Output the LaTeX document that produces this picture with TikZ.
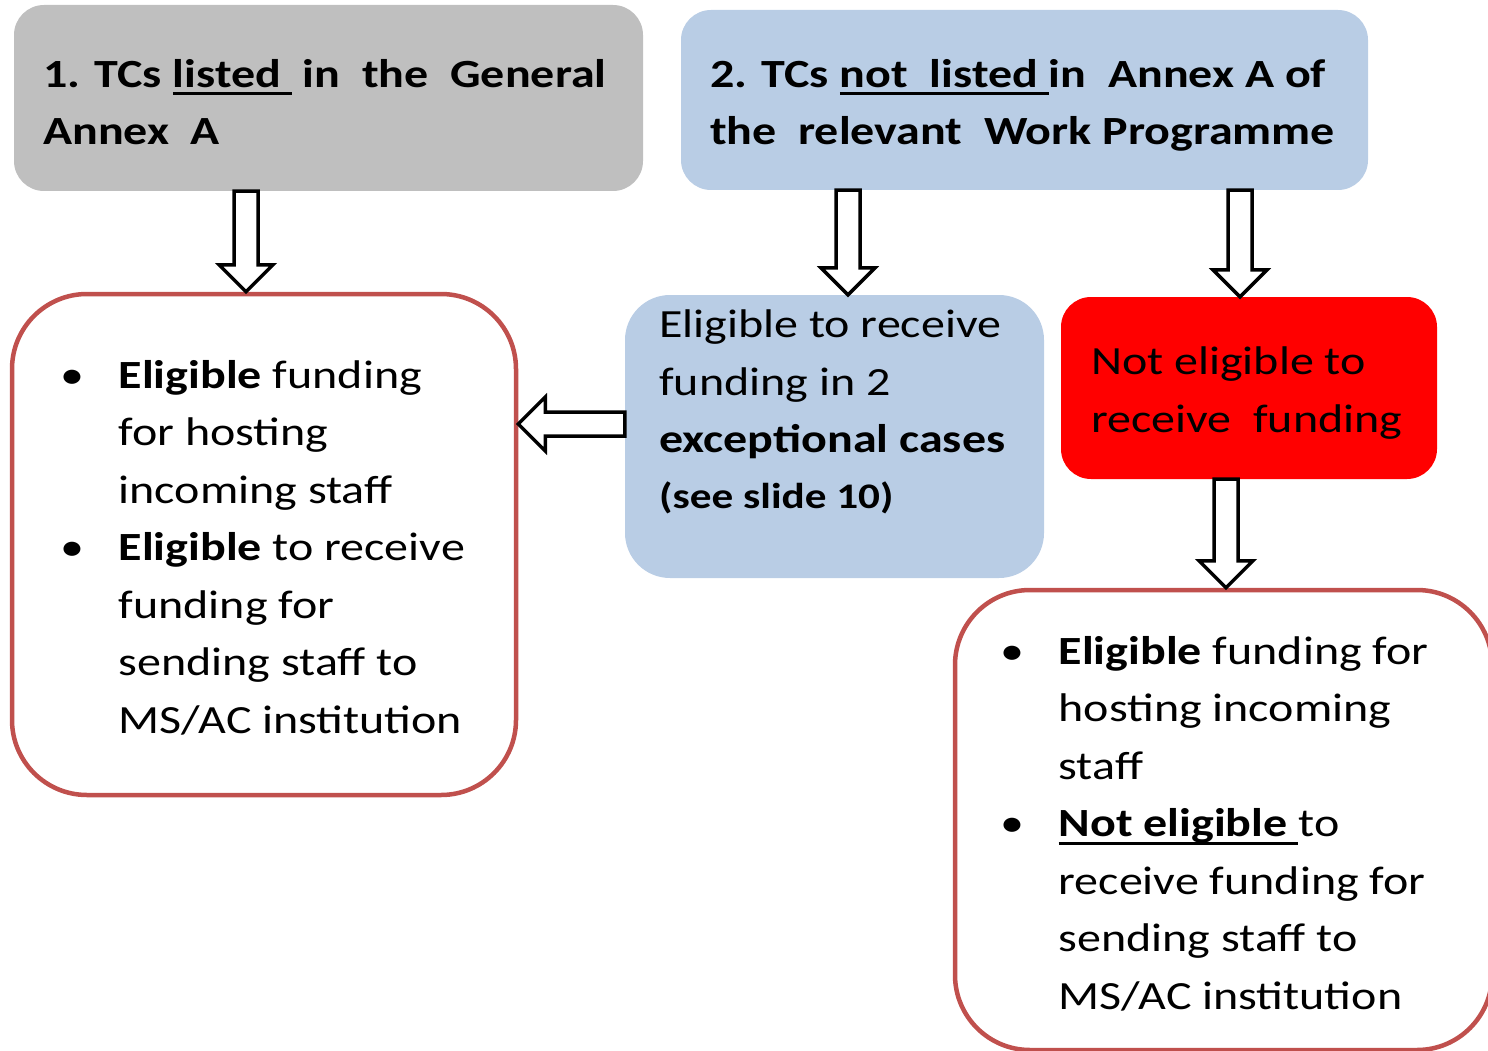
\documentclass[tikz,border=0pt]{standalone}
\usepackage{fontspec}
\setmainfont{Carlito}[FakeStretch=1.2]
\usetikzlibrary{positioning, calc}
\definecolor{boxGray}{HTML}{BFBFBF}
\definecolor{boxBlue}{HTML}{B9CDE5}
\definecolor{edgeRed}{HTML}{C0504D}
\definecolor{alarmRed}{HTML}{FF0000}
\newcommand{\ulword}[1]{\setbox0\hbox{#1}\rlap{\rule[-8pt]{\wd0}{3pt}}\box0\relax}
\newcommand{\bul}{\makebox[58.5pt][l]{\textbullet}}
\newcommand{\ind}{\hspace*{58.5pt}}
\tikzset{
  panel/.style={rounded corners=#1, inner sep=0pt},
  txt/.style={anchor=base west, inner sep=0pt, align=left,
              font=\fontsize{40}{57.5}\selectfont},
  blockarrow/.style={draw=black, line width=3.5pt, fill=white, line join=miter,
    to path={($(\tikztostart)!12pt!90:(\tikztotarget)$)
      -- ($(\tikztotarget)!27pt!(\tikztostart)!12pt!90:(\tikztotarget)$)
      -- ($(\tikztotarget)!27pt!(\tikztostart)!27pt!90:(\tikztotarget)$)
      -- (\tikztotarget)
      -- ($(\tikztotarget)!27pt!(\tikztostart)!27pt!-90:(\tikztotarget)$)
      -- ($(\tikztotarget)!27pt!(\tikztostart)!12pt!-90:(\tikztotarget)$)
      -- ($(\tikztostart)!12pt!-90:(\tikztotarget)$) -- cycle}}
}
\begin{document}
\begin{tikzpicture}[x=1pt, y=-1pt]
  \useasboundingbox (0,0) rectangle (1488,1051);
  % boxes
  \node[panel=30pt, fill=boxGray, minimum width=629pt, minimum height=186pt] (listed) at (328.5,98) {};
  \node[panel=30pt, fill=boxBlue, minimum width=687pt, minimum height=180pt] (notlisted) at (1024.5,100) {};
  \node[panel=75pt, draw=edgeRed, line width=4.5pt, fill=white, minimum width=504pt, minimum height=501pt] (hostsend) at (264,544.5) {};
  \node[panel=45pt, fill=boxBlue, minimum width=419pt, minimum height=283pt] (except) at (834.5,436.5) {};
  \node[panel=30pt, fill=alarmRed, minimum width=376pt, minimum height=182pt] (noteligible) at (1249,388) {};
  \node[panel=75pt, draw=edgeRed, line width=4.5pt, fill=white, minimum width=537pt, minimum height=460pt] (hostonly) at (1223.5,820) {};
  % texts (anchored at the last baseline)
  \node[txt] (listedtxt) at (43,145) {\textbf{1. TCs \ulword{listed\ } in\ \ the\ \ General}\\\textbf{Annex\ \ A}};
  \node[txt] (notlistedtxt) at (710,145) {\textbf{2. TCs \ulword{not\ \ listed\ }in\ \ Annex A of}\\\textbf{the\ \ relevant\ \ Work Programme}};
  \node[txt] (hostsendtxt) at (60,733) {\bul\textbf{Eligible} funding\\\ind for hosting\\\ind incoming staff\\
    \bul\textbf{Eligible} to receive\\\ind funding for\\\ind sending staff to\\\ind MS/AC institution};
  \node[txt] (excepttxt) at (659,508) {Eligible to receive\\funding in 2\\\textbf{exceptional cases}\\[-2pt]
    {\fontsize{36}{44}\selectfont\textbf{(see slide 10)}}};
  \node[txt] (noteligibletxt) at (1091,432) {Not eligible to\\receive\ \ funding};
  \node[txt] (hostonlytxt) at (1000,1009) {\bul\textbf{Eligible} funding for\\\ind hosting incoming\\\ind staff\\
    \bul\ulword{\textbf{Not eligible}\ }to\\\ind receive funding for\\\ind sending staff to\\\ind MS/AC institution};
  % arrows
  \draw[blockarrow] ([xshift=-82.5pt]listed.south) to ([xshift=-18pt]hostsend.north);
  \draw[blockarrow] ([xshift=-176.5pt]notlisted.south) to ([xshift=13.5pt]except.north);
  \draw[blockarrow] ([xshift=215.5pt]notlisted.south) to ([xshift=-9pt]noteligible.north);
  \draw[blockarrow] ([xshift=-23pt]noteligible.south) to ([xshift=2.5pt]hostonly.north);
  \draw[blockarrow] ([yshift=12.5pt]except.west) to ([yshift=120.5pt]hostsend.east);
\end{tikzpicture}
\end{document}
